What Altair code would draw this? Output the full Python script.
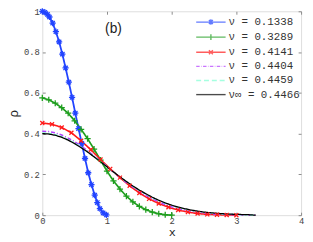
import altair as alt
import pandas as pd

# ---------------- data ----------------
names = ["ν = 0.1338", "ν = 0.3289", "ν = 0.4141", "ν = 0.4404", "ν = 0.4459", "ν∞ = 0.4466"]
colors = ["#2244ff", "#1e9e1e", "#ff1a1a", "#b43cff", "#7fffd4", "#000000"]

blue_x = [0, 0.04, 0.08, 0.11, 0.16, 0.21, 0.26, 0.31, 0.36, 0.41, 0.46, 0.51, 0.56,
          0.61, 0.66, 0.71, 0.76, 0.81, 0.85, 0.89, 0.94, 0.99]
blue_y = [1.0, 0.995, 0.985, 0.972, 0.942, 0.9, 0.85, 0.79, 0.722, 0.652, 0.578, 0.5,
          0.425, 0.352, 0.278, 0.208, 0.15, 0.098, 0.062, 0.032, 0.011, 0.001]

green_x = [0, 0.1, 0.2, 0.3, 0.4, 0.5, 0.6, 0.7, 0.8, 0.9, 1.0, 1.1, 1.2, 1.3, 1.4,
           1.5, 1.6, 1.7, 1.8, 1.9, 2.0]
green_y = [0.575, 0.566, 0.549, 0.527, 0.500, 0.463, 0.421, 0.375, 0.324, 0.270, 0.216,
           0.168, 0.128, 0.093, 0.065, 0.043, 0.027, 0.015, 0.007, 0.002, 0.0]

red_x = [0, 0.15, 0.3, 0.45, 0.6, 0.75, 0.9, 1.05, 1.2, 1.35, 1.5, 1.65, 1.8, 1.95,
         2.1, 2.25, 2.4, 2.55, 2.7, 2.85, 3.0]
red_y = [0.452, 0.446, 0.430, 0.404, 0.365, 0.321, 0.273, 0.227, 0.184, 0.144, 0.109,
         0.080, 0.057, 0.039, 0.025, 0.015, 0.008, 0.004, 0.002, 0.001, 0.0]

smooth_x = [0, 0.1, 0.2, 0.3, 0.4, 0.5, 0.6, 0.7, 0.8, 0.9, 1.0, 1.1, 1.2, 1.3, 1.4,
            1.5, 1.6, 1.7, 1.8, 1.9, 2.0, 2.1, 2.2, 2.3, 2.4, 2.5, 2.6, 2.7, 2.8, 2.9,
            3.0, 3.1, 3.2, 3.3]
purple_y = [0.412, 0.410, 0.404, 0.393, 0.378, 0.360, 0.339, 0.316, 0.291, 0.265, 0.238,
            0.211, 0.185, 0.160, 0.137, 0.116, 0.097, 0.080, 0.065, 0.052, 0.041, 0.032,
            0.025, 0.019, 0.014, 0.010, 0.007, 0.005, 0.004, 0.003, 0.002, 0.001, 0.001,
            0.0]
cyan_y = [0.403, 0.401, 0.395, 0.385, 0.371, 0.353, 0.333, 0.311, 0.287, 0.263, 0.237,
          0.212, 0.187, 0.164, 0.142, 0.122, 0.103, 0.086, 0.071, 0.058, 0.047, 0.038,
          0.030, 0.024, 0.018, 0.014, 0.011, 0.008, 0.006, 0.004, 0.003, 0.002, 0.001,
          0.0]
black_y = [0.400, 0.398, 0.392, 0.382, 0.368, 0.351, 0.331, 0.310, 0.286, 0.262, 0.237,
           0.212, 0.188, 0.165, 0.143, 0.123, 0.105, 0.088, 0.073, 0.060, 0.049, 0.040,
           0.032, 0.025, 0.020, 0.015, 0.012, 0.009, 0.007, 0.005, 0.004, 0.003, 0.002,
           0.0]

x_ticks = [0, 1, 2, 3, 4]
y_ticks = [0, 0.2, 0.4, 0.6, 0.8, 1]

panel_label = ["(b)"]
panel_label_x = [1.1]
panel_label_y = [0.915]

# ---------------- table ----------------
series_xy = [(blue_x, blue_y), (green_x, green_y), (red_x, red_y),
             (smooth_x, purple_y), (smooth_x, cyan_y), (smooth_x, black_y)]
rows = []
for i, (xs, ys) in enumerate(series_xy):
    for xv, yv in zip(xs, ys):
        rows.append({"x": xv, "y": yv, "series": names[i], "k": i})
df = pd.DataFrame(rows)
ann = pd.DataFrame({"x": panel_label_x, "y": panel_label_y, "t": panel_label})
keys = list(range(len(names)))

# ---------------- styling ----------------
W, H = 264, 208
mono = "Liberation Mono"
frame_col = "#8a8a8a"

ast_path = "M-1,0H1M0,-1V1M-0.7,-0.7L0.7,0.7M-0.7,0.7L0.7,-0.7"
plus_path = "M-1,0H1M0,-1V1"
cross_path = "M-0.75,-0.75L0.75,0.75M-0.75,0.75L0.75,-0.75"

leg_paths = [
    "M-5,0H1M-2.55,0H-1.45M-2,-0.55V0.55M-2.4,-0.4L-1.6,0.4M-2.4,0.4L-1.6,-0.4",
    "M-5,0H1M-2,-0.6V0.6",
    "M-5,0H1M-2.4,-0.4L-1.6,0.4M-2.4,0.4L-1.6,-0.4",
    "M-5,0H-4.3M-4.0,0H-3.9M-3.6,0H-2.9M-2.6,0H-2.5M-2.2,0H-1.5M-1.2,0H-1.1M-0.8,0H-0.1M0.2,0H0.3M0.6,0H1",
    "M-5,0H-4M-3.4,0H-2.4M-1.8,0H-0.8M-0.2,0H0.8",
    "M-5,0H1",
]

x_scale = alt.Scale(domain=[0, 4], nice=False, zero=False)
y_scale = alt.Scale(domain=[0, 1], nice=False, zero=False)

axis_bottom = alt.Axis(orient="top", offset=-H, values=x_ticks, format="~g",
                       tickSize=3, tickColor=frame_col, domain=False, grid=False,
                       labelPadding=-13, labelAlign="center",
                       labelFont=mono, labelFontSize=9, labelColor="#444",
                       labelFlush=False,
                       title="x", titleX=W / 2, titleY=21, titleBaseline="alphabetic",
                       titleAlign="center", titleFont=mono, titleFontSize=12,
                       titleFontWeight="normal", titleColor="#222")
axis_left = alt.Axis(orient="right", offset=-W, values=y_ticks, format="~g",
                     tickSize=3, tickColor=frame_col, domain=False, grid=False,
                     labelPadding=-6, labelAlign="right", labelBaseline="middle",
                     labelFont=mono, labelFontSize=9, labelColor="#444",
                     labelFlush=False,
                     title="ρ", titleX=-29, titleY=H / 2, titleAngle=270,
                     titleAlign="center", titleBaseline="middle",
                     titleFont=mono, titleFontSize=13, titleFontWeight="normal",
                     titleColor="#222")
axis_top = alt.Axis(orient="bottom", offset=-H, values=x_ticks, tickSize=3,
                    tickColor=frame_col, domain=False, grid=False, labels=False)
axis_right = alt.Axis(orient="left", offset=-W, values=y_ticks, tickSize=3,
                      tickColor=frame_col, domain=False, grid=False, labels=False)

base = alt.Chart(df)

# lines keyed by integer k so their (legend-less) scales do not merge with the legend's
lines = base.mark_line().encode(
    x=alt.X("x:Q", scale=x_scale, axis=axis_bottom),
    y=alt.Y("y:Q", scale=y_scale, axis=axis_left),
    color=alt.Color("k:N", scale=alt.Scale(domain=keys, range=colors), legend=None),
    strokeDash=alt.StrokeDash("k:N", scale=alt.Scale(
        domain=keys, range=[[1, 0], [1, 0], [1, 0], [4, 2, 1, 2], [4, 2], [1, 0]]),
        legend=None),
    strokeWidth=alt.StrokeWidth("k:N", scale=alt.Scale(
        domain=keys, range=[1.8, 1.3, 1.3, 1.1, 1.1, 1.4]), legend=None),
    order="k:Q",
)

xn = alt.X("x:Q", scale=x_scale, axis=None)
yn = alt.Y("y:Q", scale=y_scale, axis=None)

def markers(i, path, size):
    return base.transform_filter(alt.datum.k == i).mark_point(
        shape=path, size=size, filled=False, strokeWidth=1.3, opacity=1,
        color=colors[i]).encode(x=xn, y=yn)

pts = [markers(0, ast_path, 40), markers(1, plus_path, 40), markers(2, cross_path, 30)]

text = alt.Chart(ann).mark_text(font="Liberation Sans", fontSize=14, color="#222").encode(
    x=xn, y=yn, text="t:N")

legend = alt.Legend(orient="none", legendX=176, legendY=5, title=None,
                    labelFont=mono, labelFontSize=11, labelColor="#333",
                    labelOffset=2, symbolSize=100, symbolStrokeWidth=1.4,
                    rowPadding=3.4, padding=0, labelLimit=200)

# legend carrier: points shifted out of the view and clipped; also carries top/right ticks
frame = base.transform_calculate(xo="datum.x - 10").mark_point(
    filled=False, strokeWidth=1.4, clip=True).encode(
    x=alt.X("xo:Q", scale=x_scale, axis=axis_top, title=None),
    y=alt.Y("y:Q", scale=y_scale, axis=axis_right, title=None),
    shape=alt.Shape("series:N", scale=alt.Scale(domain=names, range=leg_paths), legend=legend),
    stroke=alt.Stroke("series:N", scale=alt.Scale(domain=names, range=colors), legend=legend),
)

chart = alt.layer(lines, pts[0], pts[1], pts[2], text, frame).resolve_axis(
    x="independent", y="independent").properties(
    width=W, height=H,
    autosize=alt.AutoSizeParams(type="none"),
    padding={"left": 35, "top": 1, "right": 4, "bottom": 24},
).configure_view(stroke=frame_col, strokeWidth=1).configure(background="white")

chart.save("out.html", embed_options={"renderer": "svg", "actions": False})
